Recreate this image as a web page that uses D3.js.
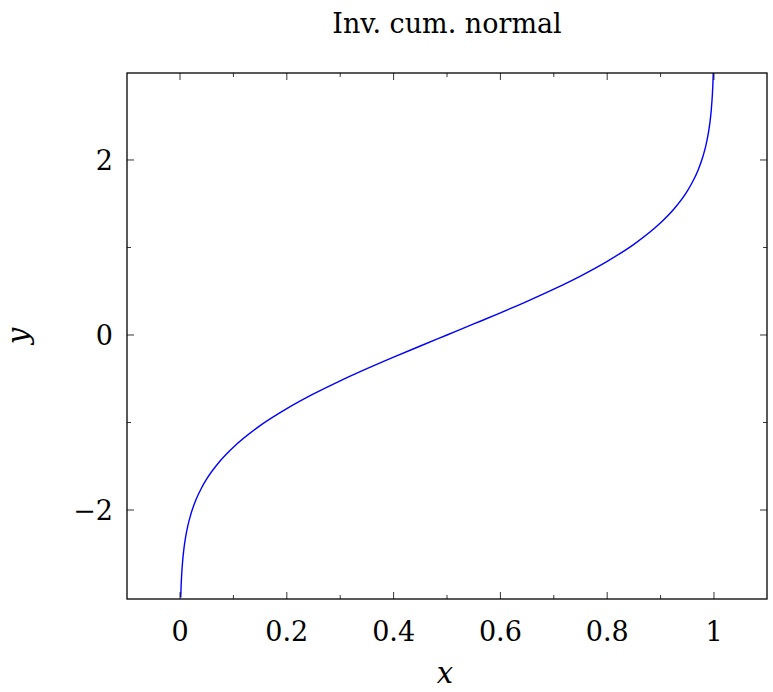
<!DOCTYPE html>
<html><head><meta charset="utf-8">
<script src="https://cdn.jsdelivr.net/npm/d3@7"></script>
<style>body{margin:0;background:#fff}text{font-family:"DejaVu Serif","Liberation Serif",serif}</style>
</head><body>
<svg id="chart" width="773" height="692"></svg>
<script>
var xValues = [0.00135,0.002,0.003,0.005,0.0075,0.01,0.015,0.02,0.03,0.04,0.05,0.075,0.1,0.15,0.2,0.25,0.3,0.35,0.4,0.45,0.5,
               0.55,0.6,0.65,0.7,0.75,0.8,0.85,0.9,0.925,0.95,0.96,0.97,0.98,0.985,0.99,0.9925,0.995,0.997,0.998,0.99865];
var yValues = [-3,-2.878,-2.748,-2.576,-2.432,-2.326,-2.170,-2.054,-1.881,-1.751,-1.645,-1.440,-1.282,-1.036,-0.842,-0.674,-0.524,-0.385,-0.253,-0.126,0,
               0.126,0.253,0.385,0.524,0.674,0.842,1.036,1.282,1.440,1.645,1.751,1.881,2.054,2.170,2.326,2.432,2.576,2.748,2.878,3];
var xTicks = [0,0.2,0.4,0.6,0.8,1];
var xMinor = [0.1,0.3,0.5,0.7,0.9];
var yTicks = [-2,0,2];
var yMinor = [-1,1];

var svg = d3.select("#chart");
var pLeft=127,pRight=767,pTop=73,pBottom=599;
var x = d3.scaleLinear().domain([-0.0993,1.0993]).range([pLeft,pRight]);
var y = d3.scaleLinear().domain([-3.017,2.994]).range([pBottom,pTop]);

svg.append("defs").append("clipPath").attr("id","clip")
  .append("rect").attr("x",pLeft).attr("y",pTop).attr("width",pRight-pLeft).attr("height",pBottom-pTop);

var pts = xValues.map(function(d,i){return [d,yValues[i]];});
svg.append("path").datum(pts).attr("clip-path","url(#clip)")
  .attr("fill","none").attr("stroke","#0000ff").attr("stroke-width",1.4)
  .attr("d",d3.line().x(function(d){return x(d[0]);}).y(function(d){return y(d[1]);}).curve(d3.curveMonotoneX));

var g = svg.append("g").attr("stroke","#000").attr("stroke-width",0.8);
function tick(xs,len){
  xs.forEach(function(v){
    g.append("line").attr("x1",x(v)).attr("x2",x(v)).attr("y1",pBottom).attr("y2",pBottom-len);
    g.append("line").attr("x1",x(v)).attr("x2",x(v)).attr("y1",pTop).attr("y2",pTop+len);
  });
}
function ytick(ys,len){
  ys.forEach(function(v){
    g.append("line").attr("y1",y(v)).attr("y2",y(v)).attr("x1",pLeft).attr("x2",pLeft+len);
    g.append("line").attr("y1",y(v)).attr("y2",y(v)).attr("x1",pRight).attr("x2",pRight-len);
  });
}
tick(xTicks,7); tick(xMinor,4); ytick(yTicks,7); ytick(yMinor,4);
svg.append("rect").attr("x",pLeft).attr("y",pTop).attr("width",pRight-pLeft).attr("height",pBottom-pTop)
  .attr("fill","none").attr("stroke","#000").attr("stroke-width",1.3);

xTicks.forEach(function(v){
  svg.append("text").attr("x",x(v)).attr("y",641).attr("text-anchor","middle")
    .attr("font-size",27).text(v);
});
yTicks.forEach(function(v){
  svg.append("text").attr("x",113).attr("y",y(v)+10).attr("text-anchor","end")
    .attr("font-size",27).text(v<0?"\u2212"+(-v):v);
});
svg.append("text").attr("x",447).attr("y",33).attr("text-anchor","middle").attr("font-size",27).text("Inv. cum. normal");
svg.append("text").attr("x",445).attr("y",683).attr("text-anchor","middle").attr("font-size",29).attr("font-style","italic").text("x");
svg.append("text").attr("transform","translate(28,336)rotate(-90)").attr("text-anchor","middle").attr("font-size",29).attr("font-style","italic").text("y");
</script>
</body></html>
